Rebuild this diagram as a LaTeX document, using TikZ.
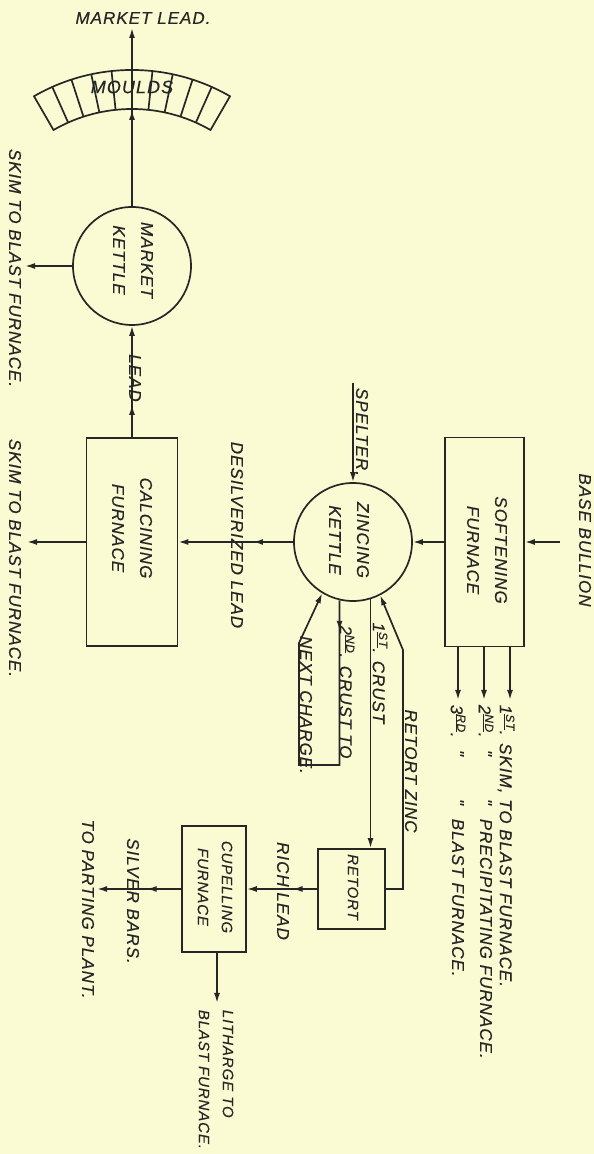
\documentclass[tikz,border=0pt]{standalone}
\usepackage{fontspec}
\setmainfont{Liberation Sans}[LetterSpace=6]
\newfontfamily\handfont{Liberation Sans}[LetterSpace=6, FakeBold=0.4]
\usetikzlibrary{arrows.meta, decorations.markings, calc}
\definecolor{paper}{HTML}{FBFBD3}
\definecolor{ink}{HTML}{262626}
\newcommand{\lettering}{\handfont\fontsize{17}{28}\selectfont\itshape}
\newcommand{\smlettering}{\handfont\fontsize{15}{24}\selectfont\itshape}
\tikzset{
  % one unit is one pixel of the plate, y runs upwards
  every picture/.append style = {x=1pt, y=1pt, line width=1.7pt, ink,
                                 >={Latex[length=10pt, width=6pt]}},
  flow/.style      = {->},
  furnace/.style   = {draw, rectangle, inner sep=0pt},
  kettle/.style    = {draw, circle, inner sep=0pt, minimum size=118pt},
  arrowhead/.style = {decoration={markings,
                       mark=at position #1 with {\arrow{>}}},
                      postaction={decorate}},
  vtxt/.style      = {rotate=-90, align=center, font=\lettering, inner sep=1pt},
  htxt/.style      = {font=\lettering, inner sep=1pt},
}

\begin{document}
\begin{tikzpicture}
  \fill[paper] (0,0) rectangle (594,1154);
  \useasboundingbox (0,0) rectangle (594,1154);
  % furnaces and kettles
  \node[furnace, minimum width=79pt, minimum height=209pt] (soft) at (484.5,612) {};
  \node[kettle] (zinc) at (353,612) {};
  \node[furnace, minimum width=91pt, minimum height=208pt] (calc) at (132,612) {};
  \node[kettle] (mkt) at (132,888) {};
  \node[furnace, minimum width=67pt, minimum height=80pt] (retort) at (351.5,265) {};
  \node[furnace, minimum width=64pt, minimum height=126pt] (cup) at (214,265) {};
  \node[vtxt] (softlbl) at (487,604) {SOFTENING\\FURNACE};
  \node[vtxt] (zinclbl) at (349,614) {ZINCING\\KETTLE};
  \node[vtxt] (calclbl) at (132,626) {CALCINING\\FURNACE};
  \node[vtxt] (mktlbl) at (133,894) {MARKET\\KETTLE};
  \node[vtxt, font=\smlettering] (retortlbl) at (353,267) {RETORT};
  \node[vtxt, font=\smlettering] (cuplbl) at (215,267) {CUPELLING\\FURNACE};
  % base bullion and spelter in
  \coordinate (bullion) at (560,612);
  \draw[flow] (bullion) -- (soft.east);
  \node[vtxt] (bullionlbl) at (585,614) {BASE BULLION};
  \draw[flow] (soft.west) -- (zinc.east);
  \coordinate (spelter) at (353,771);
  \draw[flow] (spelter) -- (zinc.north);
  \node[vtxt] (spelterlbl) at (362,722) {SPELTER.};
  % the three skims of the softening furnace
  \foreach \x in {458,484,510}
    \draw[flow] (soft.south -| \x,0) -- (\x,454);
  \node[vtxt, anchor=west] (skim1lbl) at (506,451)
    {1\textsuperscript{\underline{ST}}. SKIM, TO BLAST FURNACE.};
  \node[vtxt, anchor=west] (skim2lbl) at (486,451) {2\textsuperscript{\underline{ND}}.};
  \node[vtxt] (ditto2a) at (486,401) {"};
  \node[vtxt] (ditto2b) at (486,352) {"};
  \node[vtxt, anchor=west] (precip) at (486,337) {PRECIPITATING FURNACE.};
  \node[vtxt, anchor=west] (skim3lbl) at (458,451) {3\textsuperscript{\underline{RD}}.};
  \node[vtxt] (ditto3a) at (458,401) {"};
  \node[vtxt] (ditto3b) at (458,352) {"};
  \node[vtxt, anchor=west] (blast3) at (458,337) {BLAST FURNACE.};
  % desilverized lead to the calcining furnace
  \draw[flow, arrowhead=0.35] (zinc.west) -- (calc.east);
  \node[vtxt] (desilvlbl) at (237,619) {DESILVERIZED LEAD};
  \coordinate (calcskim) at (27,612);
  \draw[flow] (calc.west) -- (calcskim);
  \node[vtxt] (calcskimlbl) at (15,596) {SKIM TO BLAST FURNACE.};
  \draw[flow, arrowhead=0.29] (calc.north) -- (mkt.south);
  \node[vtxt] (leadlbl) at (135,776) {LEAD};
  % market kettle, moulds, market lead
  \coordinate (mktskim) at (25,888);
  \draw[flow] (mkt.west) -- (mktskim);
  \node[vtxt] (mktskimlbl) at (15,886) {SKIM TO BLAST FURNACE.};
  \coordinate (mc) at (132,888);
  \draw (mc) ++(60:196) arc[start angle=60, end angle=120, radius=196]
        -- ($(mc)+(120:157)$) arc[start angle=120, end angle=60, radius=157] -- cycle;
  \foreach \a in {66,72,78,84,96,102,108,114}
    \draw ($(mc)+(\a:157)$) -- ($(mc)+(\a:196)$);
  \node[htxt, font=\handfont\fontsize{18}{20}\selectfont\itshape] (mouldslbl) at (132,1067) {MOULDS};
  \coordinate (mktlead) at (132,1126);
  \draw[flow, arrowhead=0.54] (mkt.north) -- (mktlead);
  \node[htxt] (mktleadlbl) at (143,1136) {MARKET LEAD.};
  % crusts, retort and retort zinc
  \draw[flow] (zinc.-73) -- (zinc.-73 |- retort.north);
  \node[vtxt] (crust1lbl) at (380,481) {1\textsuperscript{\underline{ST}}. CRUST};
  \coordinate (nextchg) at (299,389);
  \draw[flow, arrowhead=0.08] (zinc.-103) |- (nextchg) -- ++(0,122) -- (zinc.-121);
  \node[vtxt] (crust2lbl) at (347,462) {2\textsuperscript{\underline{ND}}. CRUST TO};
  \node[vtxt] (nextlbl) at (306,449) {NEXT CHARGE.};
  \coordinate (rzbend) at (403,504);
  \draw[flow] (retort.east) -| (rzbend) -- (zinc.-63);
  \node[vtxt] (rzlbl) at (411,383) {RETORT ZINC};
  % rich lead to the cupelling furnace
  \draw[flow, arrowhead=0.35] (retort.west) -- (cup.east);
  \node[vtxt] (richlbl) at (283,263) {RICH LEAD};
  \coordinate (parting) at (97,265);
  \draw[flow, arrowhead=0.41] (cup.west) -- (parting);
  \node[vtxt] (silverlbl) at (133,253) {SILVER BARS.};
  \node[vtxt] (partinglbl) at (88,245) {TO PARTING PLANT.};
  \coordinate (litharge) at (217,151);
  \draw[flow] (cup.south -| litharge) -- (litharge);
  \node[vtxt, anchor=west, align=left, font=\smlettering]
    (litlbl) at (216,146) {LITHARGE TO\\BLAST FURNACE.};
\end{tikzpicture}
\end{document}
